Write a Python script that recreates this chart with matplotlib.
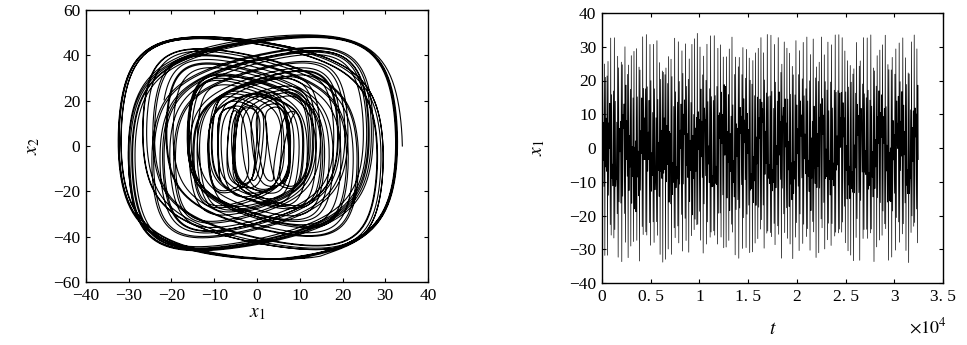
import numpy as np
import matplotlib
matplotlib.use("Agg")
import matplotlib.pyplot as plt

plt.rcParams["font.family"] = ["Liberation Serif", "DejaVu Serif"]
plt.rcParams["mathtext.fontset"] = "stix"

# amplitude-modulated oscillator: loop width and height follow a slow
# modulation; mid-size loops lean left or right, small loops wander in x1
x1_reach = 34.0                # x1 half-width of the largest loops
x2_node = 15.0                 # x2 half-height of the narrowest loops
x2_reach = 50.0                # x2 half-height of the largest loops
lean = 20.0                    # strength of the lean of mid-size loops
drift_amp = 9.0                # wander of the x1 centre of the small loops
carrier_period = 32.5          # fast oscillation period
slip_period = 655.0            # period of the slow modulation
drift_period = 2010.0          # period of the centre wander
harmonic = 0.06                # third-harmonic flattening of the waveform
t_end = 32500.0
phase_span = 1965.0            # time span drawn in the phase portrait
peak_stride = 3                # every third turning point is kept in the series

dt = 0.25
t = np.arange(0.0, t_end + dt, dt)
theta = 2 * np.pi * t / carrier_period

# modulation: its cosine sweeps linearly between -1 and 1
tau = 2 * np.pi * t / slip_period + 0.8 * np.sin(2 * np.pi * t / 3170.0)
cos_m = (2 / np.pi) * np.arcsin(np.cos(tau))
sin_m = np.sign(np.sin(tau)) * np.sqrt(np.clip(1 - cos_m ** 2, 0, 1))
size = np.abs(cos_m)

grid = np.linspace(0, 2 * np.pi, 3601)
norm_c = np.max(np.cos(grid) - harmonic * np.cos(3 * grid))
norm_s = np.max(np.sin(grid) + harmonic * np.sin(3 * grid))

def fc(x):
    return (np.cos(x) - harmonic * np.cos(3 * x)) / norm_c

def fs(x):
    return (np.sin(x) + harmonic * np.sin(3 * x)) / norm_s

centre = drift_amp * (1 - size) ** 3 * np.sin(2 * np.pi * t / drift_period + 0.4)
width = x1_reach * cos_m
height = x2_node + (x2_reach - x2_node) * size ** 1.2
tilt = lean * sin_m * cos_m

x1 = centre + width * fc(theta)
x2 = height * fs(theta) + tilt * fc(theta)

sel = t <= phase_span

# turning points of x1 (alternating maxima and minima)
d = np.diff(x1)
turn = np.where(np.sign(d[1:]) != np.sign(d[:-1]))[0] + 1
turn = turn[::peak_stride]
t_s = t[turn]
x1_s = x1[turn]

x_ticks = [-40, -30, -20, -10, 0, 10, 20, 30, 40]
y_ticks = [-60, -40, -20, 0, 20, 40, 60]
t_ticks = [0, 0.5, 1, 1.5, 2, 2.5, 3, 3.5]
t_tick_labels = ["0", "0. 5", "1", "1. 5", "2", "2. 5", "3", "3. 5"]
x1_ticks = [-40, -30, -20, -10, 0, 10, 20, 30, 40]

W, H = 967, 345
fig = plt.figure(figsize=(W / 100, H / 100), dpi=100)

def px_axes(l, r, top, bot):
    return fig.add_axes([l / W, 1 - bot / H, (r - l) / W, (bot - top) / H])

def style(ax):
    ax.tick_params(direction="in", length=3, width=0.8, labelsize=12.5,
                   top=True, right=True, pad=4)
    for s in ax.spines.values():
        s.set_linewidth(1.0)

def minus(v):
    return f"{v:g}".replace("-", "\u2212")

# phase portrait
ax1 = px_axes(86, 428, 10, 282)
ax1.plot(x1[sel], x2[sel], color="black", lw=0.8)
ax1.set_xlim(-40, 40)
ax1.set_ylim(-60, 60)
ax1.set_xticks(x_ticks)
ax1.set_xticklabels([minus(v) for v in x_ticks])
ax1.set_yticks(y_ticks)
ax1.set_yticklabels([minus(v) for v in y_ticks])
ax1.set_xlabel("$x_1$", fontsize=14, labelpad=1)
ax1.set_ylabel("$x_2$", fontsize=14, labelpad=8)
style(ax1)

# time series of x1
ax2 = px_axes(602, 943, 13, 283)
ax2.plot(t_s / 1e4, x1_s, color="black", lw=0.5)
ax2.set_xlim(0, 3.5)
ax2.set_ylim(-40, 40)
ax2.set_xticks(t_ticks)
ax2.set_xticklabels(t_tick_labels)
ax2.set_yticks(x1_ticks)
ax2.set_yticklabels([minus(v) for v in x1_ticks])
ax2.set_xlabel("$t$", fontsize=14, labelpad=12)
ax2.set_ylabel("$x_1$", fontsize=14, labelpad=16)
style(ax2)
fig.text(928 / W, 1 - 327 / H, "$\\times10^4$", fontsize=13, ha="center", va="center")

fig.savefig("out.png", dpi=100)
